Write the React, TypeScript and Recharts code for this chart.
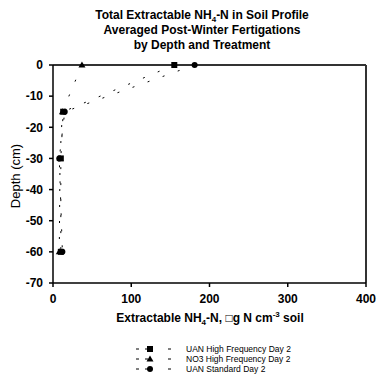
import { ScatterChart, Scatter, XAxis, YAxis, ReferenceLine } from "recharts";

const depths = [0, -15, -30, -60];
const uanHighFreq = [155, 13, 10, 10];
const no3HighFreq = [37, 12, 9, 8];
const uanStandard = [181, 15, 8, 12];

const xTicks = [0, 100, 200, 300, 400];
const yTicks = [0, -10, -20, -30, -40, -50, -60, -70];

const seriesNames = [
  "UAN High Frequency Day 2",
  "NO3 High Frequency Day 2",
  "UAN Standard Day 2",
];

const toPoints = (vals: number[]) =>
  depths.map((d, i) => ({ x: vals[i], depth: d }));

const font = "'Liberation Sans', Arial, sans-serif";
const dash = "2 14";

const Square = (p: any) => (
  <rect x={p.cx - 3} y={p.cy - 3} width={6} height={6} fill="#000" />
);
const Triangle = (p: any) => (
  <polygon
    points={`${p.cx},${p.cy - 3.5} ${p.cx + 3.5},${p.cy + 2.5} ${p.cx - 3.5},${p.cy + 2.5}`}
    fill="#000"
  />
);
const Circle = (p: any) => <circle cx={p.cx} cy={p.cy} r={3} fill="#000" />;

const legendShapes = ["square", "triangle", "circle"];

function LegendIcon({ kind }: { kind: string }) {
  return (
    <svg width={40} height={8} style={{ display: "block" }}>
      <line x1={0} y1={4} x2={40} y2={4} stroke="#000" strokeDasharray="3 6 3 20" />
      {kind === "square" && <rect x={11} y={1} width={6} height={6} fill="#000" />}
      {kind === "triangle" && <polygon points="14,0.5 17.5,6.5 10.5,6.5" fill="#000" />}
      {kind === "circle" && <circle cx={14} cy={4} r={3} fill="#000" />}
    </svg>
  );
}

export default function App() {
  return (
    <div
      style={{
        position: "absolute",
        left: 0,
        top: 0,
        width: 378,
        height: 381,
        background: "#fff",
        fontFamily: font,
      }}
    >
      <div
        style={{
          position: "absolute",
          left: 0,
          width: 404,
          top: 8,
          textAlign: "center",
          fontWeight: "bold",
          fontSize: 12,
          lineHeight: "15px",
        }}
      >
        <div>
          Total Extractable NH<sub style={{ fontSize: 8, lineHeight: 0 }}>4</sub>-N in Soil Profile
        </div>
        <div>Averaged Post-Winter Fertigations</div>
        <div>by Depth and Treatment</div>
      </div>

      <ScatterChart
        width={378}
        height={381}
        margin={{ top: 65, right: 12, bottom: 68, left: 0 }}
      >
        <XAxis
          type="number"
          dataKey="x"
          domain={[0, 400]}
          ticks={xTicks}
          tickSize={4}
          tickMargin={7}
          stroke="#000"
          strokeWidth={1.5}
          height={30}
          tick={{ fill: "#000", fontSize: 12, fontWeight: "bold", fontFamily: font }}
        />
        <YAxis
          type="number"
          dataKey="depth"
          domain={[-70, 0]}
          ticks={yTicks}
          width={53}
          tickSize={4}
          tickMargin={6}
          stroke="#000"
          strokeWidth={1.5}
          tick={{ fill: "#000", fontSize: 12, fontWeight: "bold", fontFamily: font }}
        />
        <ReferenceLine y={0} stroke="#333" strokeWidth={2} />
        <ReferenceLine x={400} stroke="#333" strokeWidth={2} />
        <Scatter
          name={seriesNames[0]}
          data={toPoints(uanHighFreq)}
          shape={Square}
          line={{ stroke: "#000", strokeWidth: 1, strokeDasharray: dash }}
          lineType="joint"
          isAnimationActive={false}
        />
        <Scatter
          name={seriesNames[1]}
          data={toPoints(no3HighFreq)}
          shape={Triangle}
          line={{ stroke: "#000", strokeWidth: 1, strokeDasharray: dash }}
          lineType="joint"
          isAnimationActive={false}
        />
        <Scatter
          name={seriesNames[2]}
          data={toPoints(uanStandard)}
          shape={Circle}
          line={{ stroke: "#000", strokeWidth: 1, strokeDasharray: dash }}
          lineType="joint"
          isAnimationActive={false}
        />
      </ScatterChart>

      <div
        style={{
          position: "absolute",
          left: 15,
          top: 176,
          transform: "translate(-50%, -50%) rotate(-90deg)",
          fontSize: 13,
          whiteSpace: "nowrap",
        }}
      >
        Depth (cm)
      </div>

      <div
        style={{
          position: "absolute",
          left: 0,
          width: 420,
          top: 311,
          textAlign: "center",
          fontWeight: "bold",
          fontSize: 12,
          whiteSpace: "nowrap",
        }}
      >
        Extractable NH<sub style={{ fontSize: 8, lineHeight: 0 }}>4</sub>-N, □g N cm
        <sup style={{ fontSize: 8, lineHeight: 0 }}>-3</sup> soil
      </div>

      <div style={{ position: "absolute", left: 136, top: 344 }}>
        {seriesNames.map((n, i) => (
          <div
            key={n}
            style={{ display: "flex", alignItems: "center", height: 10, fontSize: 8.5 }}
          >
            <LegendIcon kind={legendShapes[i]} />
            <span style={{ marginLeft: 10 }}>{n}</span>
          </div>
        ))}
      </div>
    </div>
  );
}
